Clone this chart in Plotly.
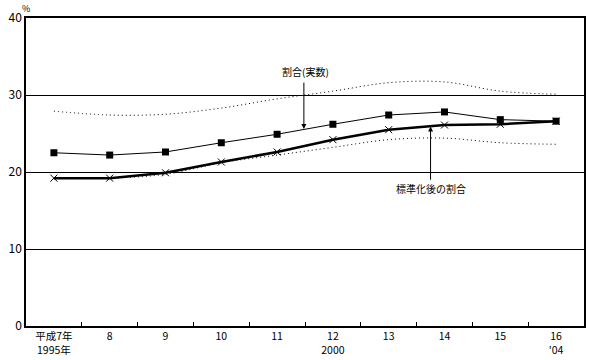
import plotly.graph_objects as go

categories = ["平成7年<br>1995年", "8", "9", "10", "11", "12<br>2000", "13", "14", "15", "16<br>'04"]
actual = [22.5, 22.2, 22.6, 23.8, 24.9, 26.2, 27.4, 27.8, 26.8, 26.6]
standardized = [19.2, 19.2, 19.9, 21.3, 22.6, 24.2, 25.5, 26.1, 26.2, 26.6]
upper = [27.9, 27.4, 27.5, 28.3, 29.5, 30.5, 31.6, 31.7, 30.5, 30.1]
lower = [19.2, 19.2, 19.7, 21.2, 22.2, 23.2, 24.2, 24.4, 23.8, 23.6]

font = "Noto Sans CJK JP"
fig = go.Figure()
for s in (upper, lower):
    fig.add_trace(go.Scatter(x=categories, y=s, mode="lines",
                             line=dict(color="black", width=1, dash="1px,3px", shape="spline"),
                             showlegend=False, hoverinfo="skip"))
fig.add_trace(go.Scatter(x=categories, y=actual, mode="lines+markers",
                         line=dict(color="black", width=1),
                         marker=dict(symbol="square", size=7, color="black"),
                         showlegend=False))
fig.add_trace(go.Scatter(x=categories, y=standardized, mode="lines+markers",
                         line=dict(color="black", width=2.5),
                         marker=dict(symbol="x-thin", size=7, line=dict(color="black", width=1)),
                         showlegend=False))

fig.add_annotation(x=4.5, y=33.0, xref="x", yref="y", text="割合(実数)", showarrow=False,
                   font=dict(size=10, color="black", family=font))
fig.add_annotation(x=4.48, y=25.6, ax=4.48, ay=31.8, xref="x", yref="y", axref="x", ayref="y",
                   text="", showarrow=True, arrowhead=2, arrowsize=1, arrowwidth=1, arrowcolor="black")
fig.add_annotation(x=6.75, y=17.8, xref="x", yref="y", text="標準化後の割合", showarrow=False,
                   font=dict(size=10, color="black", family=font))
fig.add_annotation(x=6.75, y=25.9, ax=6.75, ay=18.8, xref="x", yref="y", axref="x", ayref="y",
                   text="", showarrow=True, arrowhead=2, arrowsize=1, arrowwidth=1, arrowcolor="black")
fig.add_annotation(x=0, y=1, xref="paper", yref="paper", text="%", showarrow=False,
                   xanchor="center", yanchor="middle", yshift=10,
                   font=dict(size=9, color="black", family=font))

fig.update_layout(
    width=589, height=360,
    margin=dict(l=26, r=5, t=18, b=34),
    paper_bgcolor="white", plot_bgcolor="white",
    font=dict(family=font, size=11, color="black"),
    showlegend=False,
    xaxis=dict(type="category", range=[-0.5, 9.5], showline=True, linecolor="black", linewidth=1.5,
               mirror=True, ticks="inside", ticklen=4, tickcolor="black", tickson="boundaries",
               showgrid=False, automargin=False, tickfont=dict(size=10.5, family=font)),
    yaxis=dict(range=[0, 40], dtick=10, showline=True, linecolor="black", linewidth=1.5, mirror=True,
               showgrid=True, gridcolor="black", gridwidth=1, ticks="", zeroline=False,
               automargin=False, tickfont=dict(size=12, family=font)),
)
fig.write_html("out.html", config={"displayModeBar": False},
               post_script="document.body.style.margin='0';document.body.style.overflow='hidden';")
